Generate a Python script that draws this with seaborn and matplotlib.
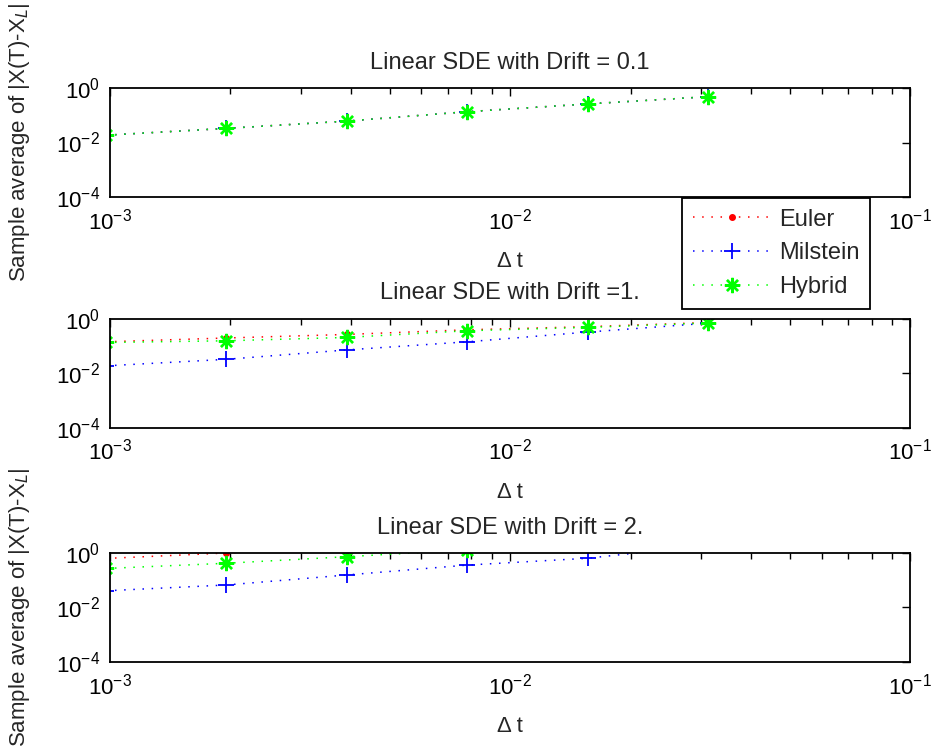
import matplotlib
matplotlib.use("Agg")
import matplotlib.pyplot as plt
import matplotlib.ticker as mticker
import numpy as np
import seaborn as sns

# time steps 2^-10 .. 2^-5
dt = [2.0 ** -10, 2.0 ** -9, 2.0 ** -8, 2.0 ** -7, 2.0 ** -6, 2.0 ** -5]

titles = ["Linear SDE with Drift = 0.1", "Linear SDE with Drift =1.", "Linear SDE with Drift = 2."]

# drift = 0.1 (all three schemes lie on top of each other)
euler_01 = [0.0185, 0.033, 0.061, 0.135, 0.26, 0.48]
milstein_01 = [0.0185, 0.033, 0.061, 0.135, 0.26, 0.48]
hybrid_01 = [0.0185, 0.033, 0.061, 0.135, 0.26, 0.48]

# drift = 1
euler_1 = [0.145, 0.20, 0.27, 0.40, 0.52, 0.74]
milstein_1 = [0.019, 0.033, 0.073, 0.145, 0.33, 0.70]
hybrid_1 = [0.137, 0.158, 0.21, 0.37, 0.49, 0.71]

# drift = 2
euler_2 = [0.63, 1.0, 1.6, 2.5, 4.0, 6.0]
milstein_2 = [0.041, 0.067, 0.156, 0.36, 0.64, 1.95]
hybrid_2 = [0.27, 0.42, 0.73, 1.3, 2.2, 3.5]

series = [
    (euler_01, milstein_01, hybrid_01),
    (euler_1, milstein_1, hybrid_1),
    (euler_2, milstein_2, hybrid_2),
]

sns.set_style("white")
plt.rcParams["font.family"] = ["Liberation Sans", "DejaVu Sans"]
plt.rcParams["mathtext.fontset"] = "custom"
plt.rcParams["mathtext.rm"] = "Liberation Sans"
plt.rcParams["font.size"] = 16

fig = plt.figure(figsize=(9.35, 7.54), dpi=100)
bottoms = [0.7387, 0.4324, 0.122]
axes = [fig.add_axes([0.1176, b, 0.856, 0.1446]) for b in bottoms]

dots = (0, (1, 5))
asterisk = (8, 2, 0)
styles = [
    ("Euler", "#ff0000", "o", 4, 1.0),
    ("Milstein", "#0000ff", "+", 11, 1.3),
    ("Hybrid", "#00ff00", asterisk, 11, 1.7),
]

for ax, vals, title in zip(axes, series, titles):
    ax.set_xscale("log")
    ax.set_yscale("log")
    for (name, color, mk, ms, mew), y in zip(styles, vals):
        sns.lineplot(x=dt, y=y, ax=ax, color=color, marker=mk, markersize=ms,
                     markeredgecolor=color, markerfacecolor=color,
                     markeredgewidth=mew, linestyle=dots, linewidth=1.1,
                     label=name, legend=False, sort=False)
    ax.set_xlim(1e-3, 1e-1)
    ax.set_ylim(1e-4, 1e0)
    ax.yaxis.set_major_locator(mticker.FixedLocator([1e-4, 1e-2, 1e0]))
    ax.yaxis.set_minor_locator(mticker.NullLocator())
    ax.xaxis.set_minor_locator(mticker.LogLocator(base=10, subs=np.arange(2, 10)))
    ax.xaxis.set_minor_formatter(mticker.NullFormatter())
    ax.tick_params(which="both", direction="in", top=True, right=True, colors="black")
    ax.tick_params(which="major", length=6, width=1)
    ax.tick_params(which="minor", length=4, width=1)
    ax.tick_params(axis="y", pad=7)
    ax.tick_params(axis="x", pad=8)
    for sp in ax.spines.values():
        sp.set_color("black")
        sp.set_linewidth(1.3)
    ax.set_title(title, pad=14, fontsize=17)
    ax.set_xlabel("Δ t", labelpad=12)

ylab = "Sample average of |X(T)-X$_L$|"
axes[0].set_ylabel(ylab)
axes[2].set_ylabel(ylab)
axes[0].yaxis.set_label_coords(-0.097, 0.5)
axes[2].yaxis.set_label_coords(-0.097, 0.5)

handles, labels = axes[0].get_legend_handles_labels()
leg = fig.legend(handles, labels, loc="upper left",
                 bbox_to_anchor=(682 / 935, 1 - 198 / 754),
                 frameon=True, fancybox=False, framealpha=1,
                 edgecolor="black", borderpad=0.45, labelspacing=0.5,
                 handlelength=3.3, handletextpad=0.35, borderaxespad=0,
                 fontsize=17)
leg.get_frame().set_linewidth(1.3)

fig.savefig("out.png", dpi=100)
